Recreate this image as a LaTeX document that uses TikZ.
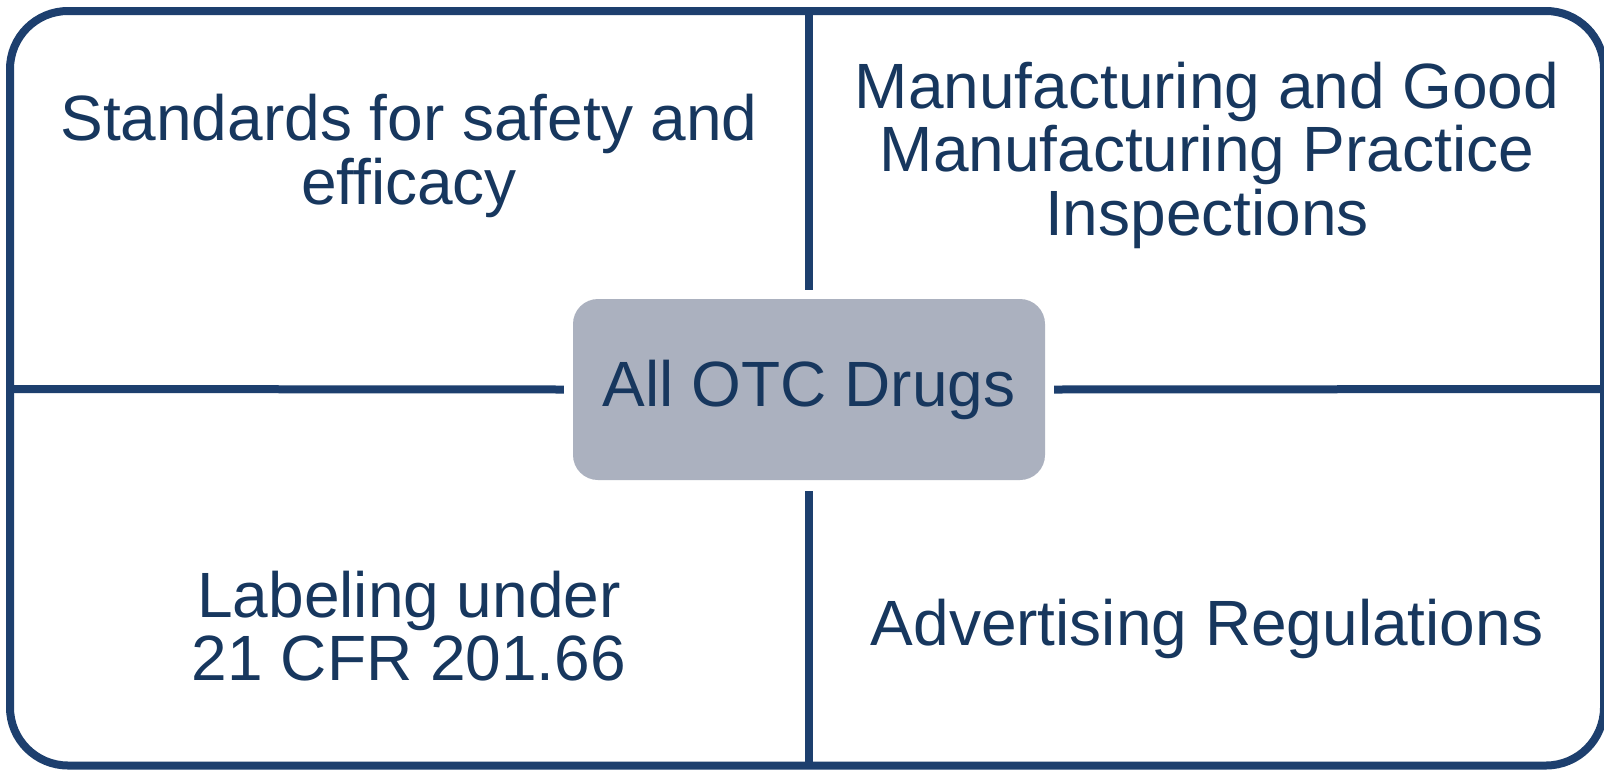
\documentclass[tikz,border=0pt]{standalone}
\usepackage{fontspec}
\setmainfont{Liberation Sans}
\definecolor{navy}{HTML}{1D3F6E}
\definecolor{txtblue}{HTML}{17375E}
\definecolor{boxfill}{HTML}{ABB1BF}
\tikzset{
  frame/.style={draw=navy, line width=8pt, rounded corners=58pt},
  divider/.style={draw=navy, line width=8pt},
  centerbox/.style={fill=boxfill, rounded corners=25pt, minimum width=472pt, minimum height=181pt, inner sep=0pt, text=txtblue, font=\fontsize{64}{63.5}\selectfont},
  quadtext/.style={align=center, text=txtblue, inner sep=0pt, font=\fontsize{64}{63.5}\selectfont}
}
\begin{document}
\begin{tikzpicture}[x=1pt,y=-1pt]
\useasboundingbox (0,0) rectangle (1604,769);
\fill[white] (0,0) rectangle (1604,769);
\draw[frame] (10,11) rectangle (1604,765.5);
\node[centerbox] (c) at (809,389.5) {All OTC Drugs};
\coordinate (T) at (809,11);
\coordinate (B) at (809,765.5);
\coordinate (L) at (10,389);
\coordinate (R) at (1604,389);
\draw[divider] (T) -- ([yshift=9pt]c.north);
\draw[divider] ([yshift=-11pt]c.south) -- (B);
\draw[divider] (L) -- ([xshift=-9pt]c.west);
\draw[divider] ([xshift=9pt]c.east) -- (R);
\node[quadtext] (q1) at (409,156) {Standards for safety and\\efficacy};
\node[quadtext] (q2) at (1207,155) {Manufacturing and Good\\Manufacturing Practice\\Inspections};
\node[quadtext] (q3) at (409,626) {Labeling under\\21 CFR 201.66};
\node[quadtext] (q4) at (1207,629) {Advertising Regulations};
\end{tikzpicture}
\end{document}
